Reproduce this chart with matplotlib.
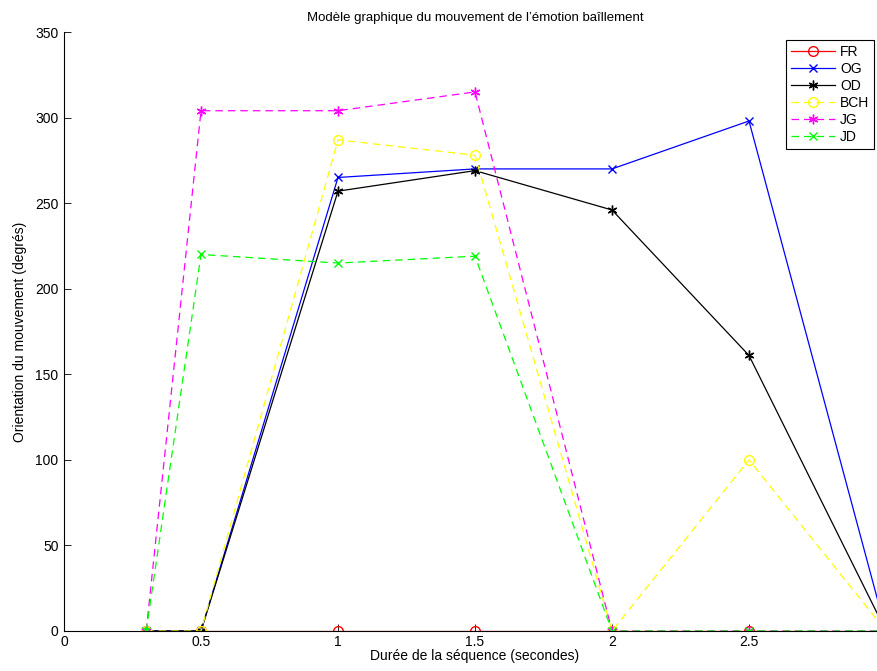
import matplotlib
matplotlib.use("Agg")
import matplotlib.pyplot as plt

plt.rcParams['font.family'] = ['Liberation Sans', 'DejaVu Sans']

x = [0.3, 0.5, 1.0, 1.5, 2.0, 2.5, 3.0]
FR = [0, 0, 0, 0, 0, 0, 0]
OG = [0, 0, 265, 270, 270, 298, 0]
OD = [0, 0, 257, 269, 246, 161, 0]
BCH = [0, 0, 287, 278, 0, 100, 0]
JG = [0, 304, 304, 315, 0, 0, 0]
JD = [0, 220, 215, 219, 0, 0, 0]

xticks = [0, 0.5, 1, 1.5, 2, 2.5]
xticklabels = ['0', '0.5', '1', '1.5', '2', '2.5']
yticks = [0, 50, 100, 150, 200, 250, 300, 350]

fig = plt.figure(figsize=(8.78, 6.71), dpi=100)
ax = fig.add_axes([64/878, 40/671, 822/878, 599/671])

lw = 0.9
ax.plot(x, FR, color='#ff0000', marker='o', markerfacecolor='none', ms=7, lw=lw, label='FR')
ax.plot(x, OG, color='#0000ff', marker='x', ms=6, lw=lw, label='OG')
ax.plot(x, OD, color='#000000', marker=(6, 2, 0), ms=7, lw=lw, label='OD')
ax.plot(x, BCH, color='#ffff00', marker='o', markerfacecolor='none', ms=7, lw=lw, ls=(0, (6, 4)), label='BCH')
ax.plot(x, JG, color='#ff00ff', marker=(6, 2, 0), ms=7, lw=lw, ls=(0, (6, 4)), label='JG')
ax.plot(x, JD, color='#00ff00', marker='x', ms=6, lw=lw, ls=(0, (6, 4)), label='JD')

ax.set_xlim(0, 3)
ax.set_ylim(0, 350)
ax.set_xticks(xticks)
ax.set_xticklabels(xticklabels)
ax.set_yticks(yticks)
ax.tick_params(direction='in', labelsize=10, length=5, width=0.6, pad=4)
ax.tick_params(axis='x', pad=3)
ax.spines['top'].set_visible(False)
ax.spines['right'].set_visible(False)
for s in ['left', 'bottom']:
    ax.spines[s].set_linewidth(0.8)

ax.set_title("Modèle graphique du mouvement de l\u2019émotion baîllement", fontsize=9.5, pad=8)
ax.set_xlabel('Durée de la séquence (secondes)', fontsize=10, labelpad=0)
ax.set_ylabel('Orientation du mouvement (degrés)', fontsize=10, labelpad=6)

leg = ax.legend(loc='upper left', bbox_to_anchor=(786/878, 1 - 40/671), bbox_transform=fig.transFigure,
                fontsize=10, frameon=True, fancybox=False, edgecolor='black', framealpha=1,
                handlelength=3.2, labelspacing=0.22, borderpad=0.35, handletextpad=0.35, borderaxespad=0)
leg.get_frame().set_linewidth(0.8)

fig.savefig('out.png', dpi=100)
